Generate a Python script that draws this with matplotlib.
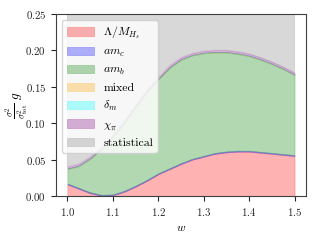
import matplotlib
matplotlib.use("Agg")
import matplotlib.pyplot as plt
import numpy as np

plt.rcParams.update({
    "font.family": "serif",
    "font.serif": ["cmr10", "DejaVu Serif"],
    "mathtext.fontset": "cm",
    "axes.formatter.use_mathtext": True,
    "font.size": 7.8,
    "axes.unicode_minus": False,
})

# sample points in w
w = [1.000, 1.025, 1.050, 1.075, 1.100, 1.125, 1.150, 1.175, 1.200, 1.225, 1.250,
     1.275, 1.300, 1.325, 1.350, 1.375, 1.400, 1.425, 1.450, 1.475, 1.500]
# band thicknesses (stacked)
lam = [0.016, 0.010, 0.004, 0.0005, 0.001, 0.006, 0.013, 0.021, 0.030, 0.037, 0.044,
       0.050, 0.054, 0.058, 0.060, 0.061, 0.061, 0.0595, 0.058, 0.0565, 0.055]
am_c = [0.0012, 0.0012, 0.0012, 0.0012, 0.0012, 0.0012, 0.0012, 0.0012, 0.0012, 0.0012, 0.0012,
        0.0012, 0.0012, 0.0012, 0.0012, 0.0012, 0.0012, 0.0012, 0.0012, 0.0012, 0.0012]
am_b = [0.0198, 0.0298, 0.0458, 0.0623, 0.0788, 0.0928, 0.1078, 0.1208, 0.1288, 0.1378, 0.1418,
        0.1418, 0.1408, 0.1378, 0.1358, 0.1328, 0.1298, 0.1263, 0.1218, 0.1163, 0.1098]
mixed = [0.0004, 0.0004, 0.0004, 0.0004, 0.0004, 0.0004, 0.0004, 0.0004, 0.0004, 0.0004, 0.0004,
         0.0004, 0.0004, 0.0004, 0.0004, 0.0004, 0.0004, 0.0004, 0.0004, 0.0004, 0.0004]
delta_m = [0.0004, 0.0004, 0.0004, 0.0004, 0.0004, 0.0004, 0.0004, 0.0004, 0.0004, 0.0004, 0.0004,
           0.0004, 0.0004, 0.0004, 0.0004, 0.0004, 0.0004, 0.0004, 0.0004, 0.0004, 0.0004]
chi_pi = [0.0025, 0.0025, 0.0025, 0.0025, 0.0025, 0.0025, 0.0025, 0.0025, 0.0025, 0.0025, 0.0025,
          0.0025, 0.0025, 0.0025, 0.0025, 0.0025, 0.0025, 0.0025, 0.0025, 0.0025, 0.0025]
statistical = [0.30, 0.30, 0.30, 0.30, 0.30, 0.30, 0.30, 0.30, 0.30, 0.30, 0.30,
               0.30, 0.30, 0.30, 0.30, 0.30, 0.30, 0.30, 0.30, 0.30, 0.30]

labels = [r"$\Lambda/M_{H_s}$", r"$am_c$", r"$am_b$", "mixed",
          r"$\delta_m$", r"$\chi_\pi$", "statistical"]
colors = ["red", "blue", "green", "orange", "cyan", "purple", "gray"]
series = [lam, am_c, am_b, mixed, delta_m, chi_pi, statistical]

fig = plt.figure(figsize=(3.2, 2.4), dpi=100)
ax = fig.add_axes([0.175, 0.183, 0.781, 0.759])

wa = np.array(w)
base = np.zeros(len(w))
for s, c, lab in zip(series, colors, labels):
    top = base + np.array(s)
    ax.fill_between(wa, base, top, color=c, alpha=0.3, label=lab, linewidth=0.5)
    base = top

ax.set_ylim(0, 0.25)
ax.set_xticks([1.0, 1.1, 1.2, 1.3, 1.4, 1.5])
ax.set_yticks([0.0, 0.05, 0.10, 0.15, 0.20, 0.25])
ax.set_xlabel(r"$w$", fontsize=8.5)
ax.set_ylabel(r"$\frac{\sigma^2}{\sigma^2_{\rm tot}}\ g$", fontsize=9.5)
ax.yaxis.set_label_coords(-0.1, 0.5)
for sp in ax.spines.values():
    sp.set_color("0.25")
ax.tick_params(colors="0.15", direction="out", length=3.5)
ax.legend(loc="upper left", fontsize=8.5, handlelength=2.3)

fig.savefig("out.png", dpi=100)
